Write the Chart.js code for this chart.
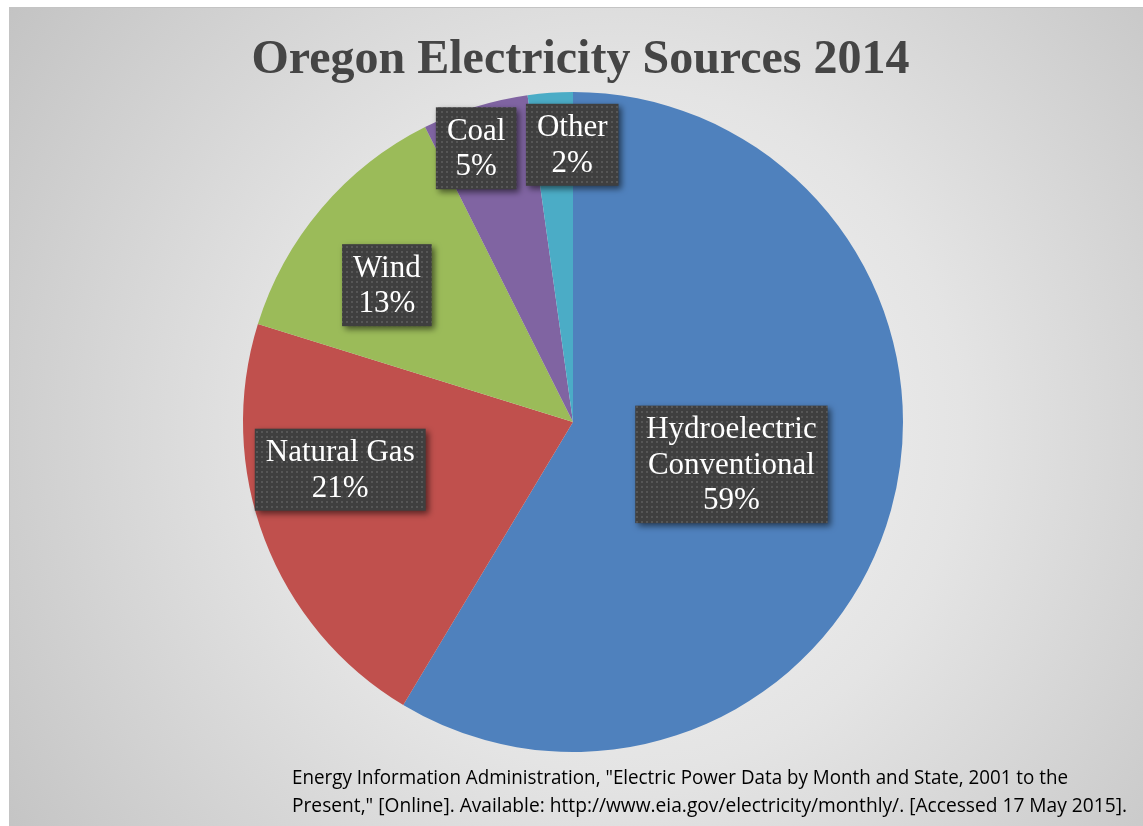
<!DOCTYPE html>
<html>
<head>
<meta charset="utf-8">
<script src="https://cdn.jsdelivr.net/npm/chart.js@4.4.1/dist/chart.umd.min.js"></script>
<style>
html,body{margin:0;padding:0;background:#ffffff;}
canvas{display:block;}
</style>
</head>
<body>
<canvas id="c" width="1143" height="826"></canvas>
<script>
// ---- data ----
const categories = [["Hydroelectric", "Conventional"], ["Natural Gas"], ["Wind"], ["Coal"], ["Other"]];
const shares = [58.6, 21.2, 12.8, 5.2, 2.2];
const sliceColors = ["#4f81bd", "#c0504d", "#9bbb59", "#8064a2", "#4bacc6"];
const titleText = "Oregon Electricity Sources 2014";
const sourceLines = [
  "Energy Information Administration, \"Electric Power Data by Month and State, 2001 to the",
  "Present,\" [Online]. Available: http://www.eia.gov/electricity/monthly/. [Accessed 17 May 2015]."
];
// label placement (fraction of radius, angular shift in degrees) — layout only
const labelPlacement = [
  {frac: 0.497, shift: -0.5},
  {frac: 0.72, shift: 9.3},
  {frac: 0.70, shift: -4},
  {frac: 0.88, shift: -2.2},
  {frac: 0.84, shift: 3.8}
];

const bgPlugin = {
  id: 'bg',
  beforeDraw(chart) {
    const ctx = chart.ctx;
    ctx.save();
    ctx.fillStyle = '#ffffff';
    ctx.fillRect(0, 0, chart.width, chart.height);
    const g = ctx.createRadialGradient(620, 430, 0, 620, 430, 760);
    g.addColorStop(0, '#f6f6f6');
    g.addColorStop(0.45, '#e4e4e4');
    g.addColorStop(1, '#c2c2c2');
    ctx.fillStyle = g;
    ctx.fillRect(9, 7, chart.width - 9, chart.height - 7);
    ctx.strokeStyle = '#c4c4c4';
    ctx.lineWidth = 1;
    ctx.strokeRect(9.5, 7.5, chart.width - 9, chart.height - 7);
    // title
    ctx.fillStyle = '#454545';
    ctx.font = 'bold 48px "Liberation Serif", "Times New Roman", serif';
    ctx.textAlign = 'center';
    ctx.textBaseline = 'alphabetic';
    ctx.fillText(titleText, 580.5, 73);
    ctx.restore();
  }
};

function makePattern(ctx) {
  const p = document.createElement('canvas');
  p.width = 5; p.height = 5;
  const pc = p.getContext('2d');
  pc.fillStyle = '#3f3f3f';
  pc.fillRect(0, 0, 5, 5);
  pc.fillStyle = '#565656';
  pc.fillRect(1, 1, 2, 2);
  return ctx.createPattern(p, 'repeat');
}

const labelPlugin = {
  id: 'boxLabels',
  afterDatasetsDraw(chart) {
    const ctx = chart.ctx;
    const meta = chart.getDatasetMeta(0);
    const data = chart.data.datasets[0].data;
    const total = data.reduce((a, b) => a + b, 0);
    const pattern = makePattern(ctx);
    const fontSize = 31, lineH = 35.5, padX = 11, padY = 5.5;
    ctx.save();
    ctx.font = fontSize + 'px "Liberation Serif", "Times New Roman", serif';
    meta.data.forEach((arc, i) => {
      const p = arc.getProps(['x', 'y', 'startAngle', 'endAngle', 'outerRadius'], true);
      const pl = labelPlacement[i];
      const mid = (p.startAngle + p.endAngle) / 2 + pl.shift * Math.PI / 180;
      const cx = p.x + Math.cos(mid) * p.outerRadius * pl.frac;
      const cy = p.y + Math.sin(mid) * p.outerRadius * pl.frac;
      const lines = [...chart.data.labels[i], Math.round(data[i] / total * 100) + '%'];
      let w = 0;
      lines.forEach(l => { w = Math.max(w, ctx.measureText(l).width); });
      const bw = w + padX * 2, bh = lines.length * lineH + padY * 2;
      const bx = cx - bw / 2, by = cy - bh / 2;
      ctx.save();
      ctx.shadowColor = 'rgba(0,0,0,0.55)';
      ctx.shadowBlur = 6;
      ctx.shadowOffsetX = 3;
      ctx.shadowOffsetY = 3;
      ctx.fillStyle = pattern;
      ctx.fillRect(bx, by, bw, bh);
      ctx.restore();
      ctx.fillStyle = '#ffffff';
      ctx.textAlign = 'center';
      ctx.textBaseline = 'middle';
      lines.forEach((l, k) => {
        ctx.fillText(l, cx, by + padY + lineH * (k + 0.5) + 1);
      });
    });
    ctx.restore();
  }
};

const sourcePlugin = {
  id: 'source',
  afterDraw(chart) {
    const ctx = chart.ctx;
    ctx.save();
    ctx.fillStyle = '#000000';
    ctx.font = '20.5px "Open Sans", "Liberation Sans", sans-serif';
    ctx.textAlign = 'left';
    ctx.textBaseline = 'alphabetic';
    ctx.fillText(sourceLines[0], 292, 784, 776);
    ctx.fillText(sourceLines[1], 292, 812, 835);
    ctx.restore();
  }
};

new Chart(document.getElementById('c'), {
  type: 'pie',
  data: {
    labels: categories,
    datasets: [{
      data: shares,
      backgroundColor: sliceColors,
      borderWidth: 0,
      hoverOffset: 0
    }]
  },
  options: {
    responsive: false,
    animation: false,
    layout: {padding: {top: 92, bottom: 74, left: 243, right: 240}},
    plugins: {
      legend: {display: false},
      tooltip: {enabled: false},
      title: {display: false}
    }
  },
  plugins: [bgPlugin, labelPlugin, sourcePlugin]
});
</script>
</body>
</html>
